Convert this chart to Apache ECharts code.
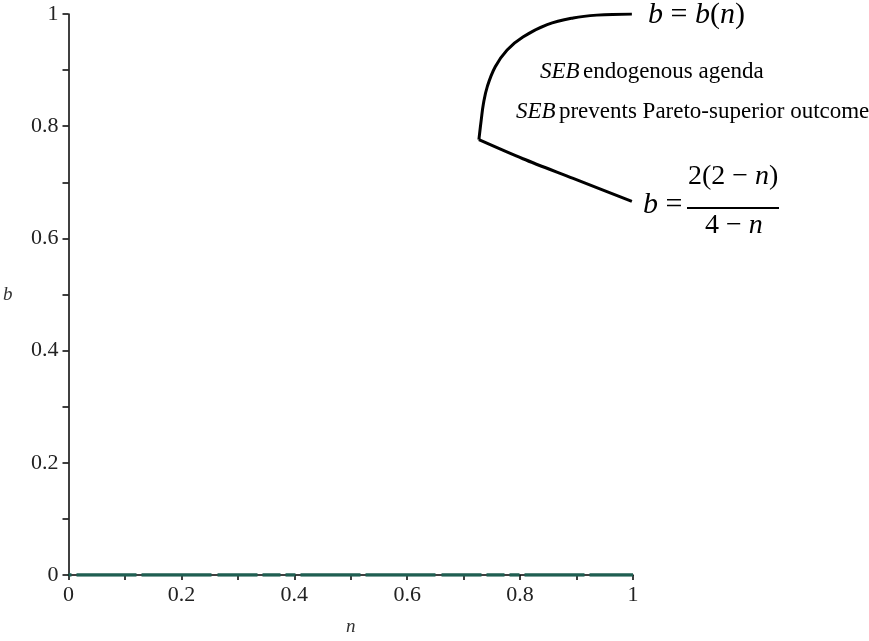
<!DOCTYPE html>
<html>
<head>
<meta charset="utf-8">
<script src="https://cdn.jsdelivr.net/npm/echarts@6/dist/echarts.min.js"></script>
<style>
html,body{margin:0;padding:0;background:#fff;}
#chart{width:869px;height:641px;}
</style>
</head>
<body>
<div id="chart"></div>
<script>
// Upper curve b = b(n)
const nUpper = [0.727, 0.731, 0.735, 0.742, 0.756, 0.777, 0.805, 0.848, 0.894, 0.936, 0.998];
const bUpper = [0.776, 0.810, 0.840, 0.871, 0.906, 0.936, 0.959, 0.981, 0.993, 0.998, 1.000];
// Lower curve b = 2(2-n)/(4-n)
const nLower = [0.727, 0.805, 0.894, 0.998];
const bLower = [0.776, 0.742, 0.707, 0.666];
// Baseline at b = 0
const nBase = [0.0, 1.0];
const bBase = [0.0, 0.0];
const tickLabels = ['0', '0.2', '0.4', '0.6', '0.8', '1'];

const zip = (a, b) => a.map((v, i) => [v, b[i]]);
const serif = '"Liberation Serif", "DejaVu Serif", serif';
const fmt = v => { const s = tickLabels.find(t => Math.abs(parseFloat(t) - v) < 1e-9); return s === undefined ? '' : s; };

const chart = echarts.init(document.getElementById('chart'));
chart.setOption({
  backgroundColor: '#ffffff',
  animation: false,
  grid: { left: 68, right: 236, top: 14, bottom: 61, containLabel: false },
  xAxis: {
    type: 'value', min: 0, max: 1, interval: 0.2,
    name: 'n', nameLocation: 'middle', nameGap: 42,
    nameTextStyle: { fontFamily: serif, fontStyle: 'italic', fontSize: 19, color: '#333' },
    axisLine: { show: true, onZero: false, lineStyle: { color: '#000', width: 1.5 } },
    axisTick: { show: true, length: 5, lineStyle: { color: '#000', width: 1.5 } },
    minorTick: { show: true, splitNumber: 2, length: 5, lineStyle: { color: '#000', width: 1.5 } },
    splitLine: { show: false },
    axisLabel: { formatter: fmt, fontFamily: serif, fontSize: 22, color: '#222', margin: 9 }
  },
  yAxis: {
    type: 'value', min: 0, max: 1, interval: 0.2,
    name: 'b', nameLocation: 'middle', nameGap: 56, nameRotate: 0,
    nameTextStyle: { fontFamily: serif, fontStyle: 'italic', fontSize: 19, color: '#333' },
    axisLine: { show: true, onZero: false, lineStyle: { color: '#000', width: 1.5 } },
    axisTick: { show: true, length: 6, lineStyle: { color: '#000', width: 1.5 } },
    minorTick: { show: true, splitNumber: 2, length: 6, lineStyle: { color: '#000', width: 1.5 } },
    splitLine: { show: false },
    axisLabel: { formatter: fmt, fontFamily: serif, fontSize: 22, color: '#222', margin: 10 }
  },
  series: [
    {
      type: 'line', data: zip(nBase, bBase), symbol: 'none', z: 1,
      lineStyle: { color: '#1f5f52', width: 3.5, type: [60, 5, 70, 6, 40, 5, 18, 5, 10, 5], dashOffset: -8 }
    },
    {
      type: 'line', data: zip(nUpper, bUpper), symbol: 'none', smooth: 0.4,
      lineStyle: { color: '#000', width: 3 }
    },
    {
      type: 'line', data: zip(nLower, bLower), symbol: 'none', smooth: 0.3,
      lineStyle: { color: '#000', width: 3 }
    }
  ],
  graphic: [
    {
      type: 'text', left: 648, top: 0,
      style: {
        text: '{i|b}{r| = }{i|b}{r|(}{i|n}{r|)}',
        rich: {
          i: { fontFamily: serif, fontStyle: 'italic', fontSize: 30, fill: '#000' },
          r: { fontFamily: serif, fontSize: 30, fill: '#000' }
        }
      }
    },
    {
      type: 'text', left: 540, top: 60,
      style: {
        text: '{i|SEB} {r|endogenous agenda}',
        rich: {
          i: { fontFamily: serif, fontStyle: 'italic', fontSize: 23, fill: '#000' },
          r: { fontFamily: serif, fontSize: 23, fill: '#000' }
        }
      }
    },
    {
      type: 'text', left: 516, top: 100,
      style: {
        text: '{i|SEB} {r|prevents Pareto-superior outcome}',
        rich: {
          i: { fontFamily: serif, fontStyle: 'italic', fontSize: 23, fill: '#000' },
          r: { fontFamily: serif, fontSize: 23, fill: '#000' }
        }
      }
    },
    {
      type: 'text', left: 643, top: 190,
      style: {
        text: '{i|b}{r| =}',
        rich: {
          i: { fontFamily: serif, fontStyle: 'italic', fontSize: 30, fill: '#000' },
          r: { fontFamily: serif, fontSize: 30, fill: '#000' }
        }
      }
    },
    {
      type: 'text', left: 688, top: 163,
      style: {
        text: '{r|2(2 \u2212 }{i|n}{r|)}',
        rich: {
          i: { fontFamily: serif, fontStyle: 'italic', fontSize: 28, fill: '#000' },
          r: { fontFamily: serif, fontSize: 28, fill: '#000' }
        }
      }
    },
    {
      type: 'line', shape: { x1: 687, y1: 208, x2: 779, y2: 208 },
      style: { stroke: '#000', lineWidth: 2 }
    },
    {
      type: 'text', left: 705, top: 212,
      style: {
        text: '{r|4 \u2212 }{i|n}',
        rich: {
          i: { fontFamily: serif, fontStyle: 'italic', fontSize: 28, fill: '#000' },
          r: { fontFamily: serif, fontSize: 28, fill: '#000' }
        }
      }
    }
  ]
});
</script>
</body>
</html>
